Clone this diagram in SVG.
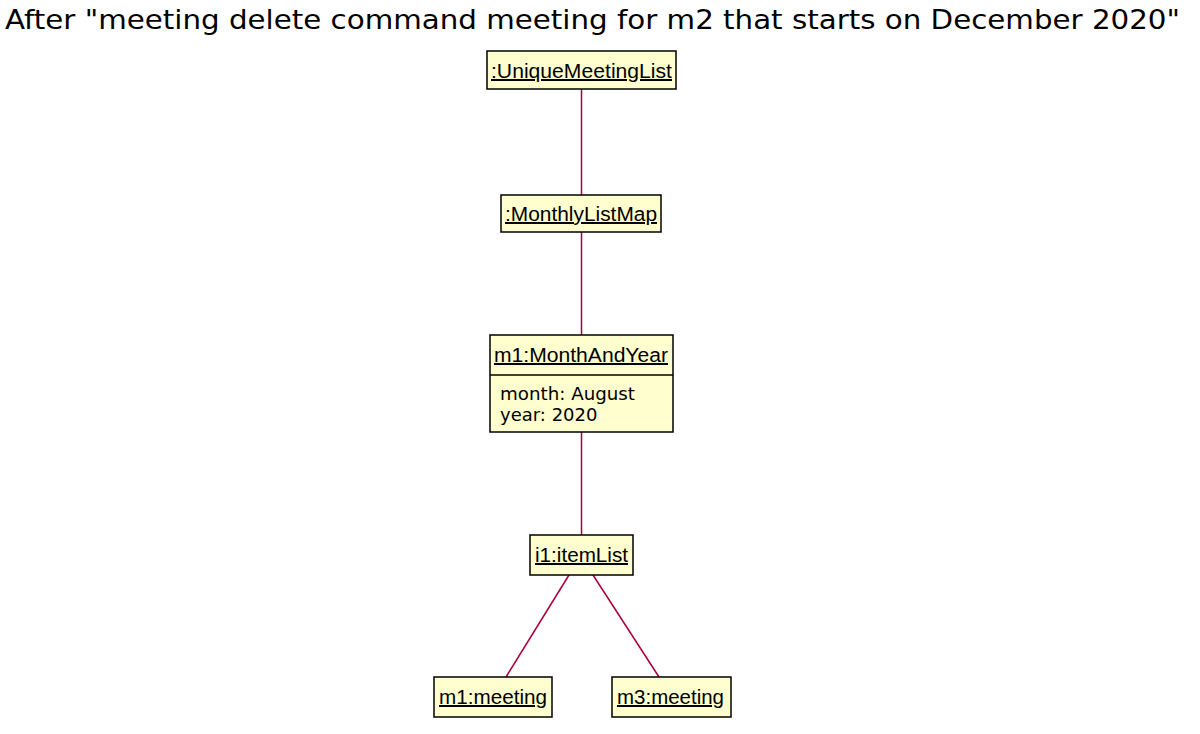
<svg xmlns="http://www.w3.org/2000/svg" width="1200" height="734" viewBox="0 0 1200 734">
<style>
.box{fill:#FEFECE;stroke:#000;stroke-width:1.5}
.name{font-family:"Liberation Sans",Arial,sans-serif;font-size:20px;fill:#000;text-decoration:underline}
.attr{font-family:"DejaVu Sans",Verdana,sans-serif;font-size:18px;fill:#000}
.title{font-family:"DejaVu Sans",Verdana,sans-serif;font-size:27px;fill:#000}
.link{stroke:#A80036;stroke-width:1.5;fill:none}
</style>
<rect width="1200" height="734" fill="#fff"/>
<text class="title" x="5" y="29" textLength="1175" lengthAdjust="spacingAndGlyphs">After "meeting delete command meeting for m2 that starts on December 2020"</text>
<g id="connectors">
<line class="link" x1="581.5" y1="89" x2="581.5" y2="195"/>
<line class="link" x1="581.5" y1="232" x2="581.5" y2="335"/>
<line class="link" x1="581.5" y1="432" x2="581.5" y2="535"/>
<line class="link" x1="569" y1="575" x2="506" y2="677"/>
<line class="link" x1="593" y1="575" x2="659" y2="677"/>
</g>
<g id="uniqueMeetingList">
<rect class="box" x="487" y="51" width="189" height="38"/>
<text class="name" x="491" y="78" textLength="181" lengthAdjust="spacingAndGlyphs">:UniqueMeetingList</text>
</g>
<g id="monthlyListMap">
<rect class="box" x="501" y="195" width="160" height="37"/>
<text class="name" x="505" y="221" textLength="152" lengthAdjust="spacingAndGlyphs">:MonthlyListMap</text>
</g>
<g id="monthAndYear">
<rect class="box" x="490" y="335" width="183" height="97"/>
<line x1="490" y1="375" x2="673" y2="375" stroke="#000" stroke-width="1.5"/>
<text class="name" x="494" y="362" textLength="174" lengthAdjust="spacingAndGlyphs">m1:MonthAndYear</text>
<text class="attr" x="500" y="400" textLength="135" lengthAdjust="spacingAndGlyphs">month: August</text>
<text class="attr" x="500" y="421">year: 2020</text>
</g>
<g id="itemList">
<rect class="box" x="530" y="535" width="103" height="40"/>
<text class="name" x="535" y="562" textLength="93" lengthAdjust="spacingAndGlyphs">i1:itemList</text>
</g>
<g id="m1meeting">
<rect class="box" x="434" y="677" width="118" height="40"/>
<text class="name" x="439" y="704" textLength="108" lengthAdjust="spacingAndGlyphs">m1:meeting</text>
</g>
<g id="m3meeting">
<rect class="box" x="612" y="677" width="119" height="40"/>
<text class="name" x="617" y="704" textLength="107" lengthAdjust="spacingAndGlyphs">m3:meeting</text>
</g>
</svg>
